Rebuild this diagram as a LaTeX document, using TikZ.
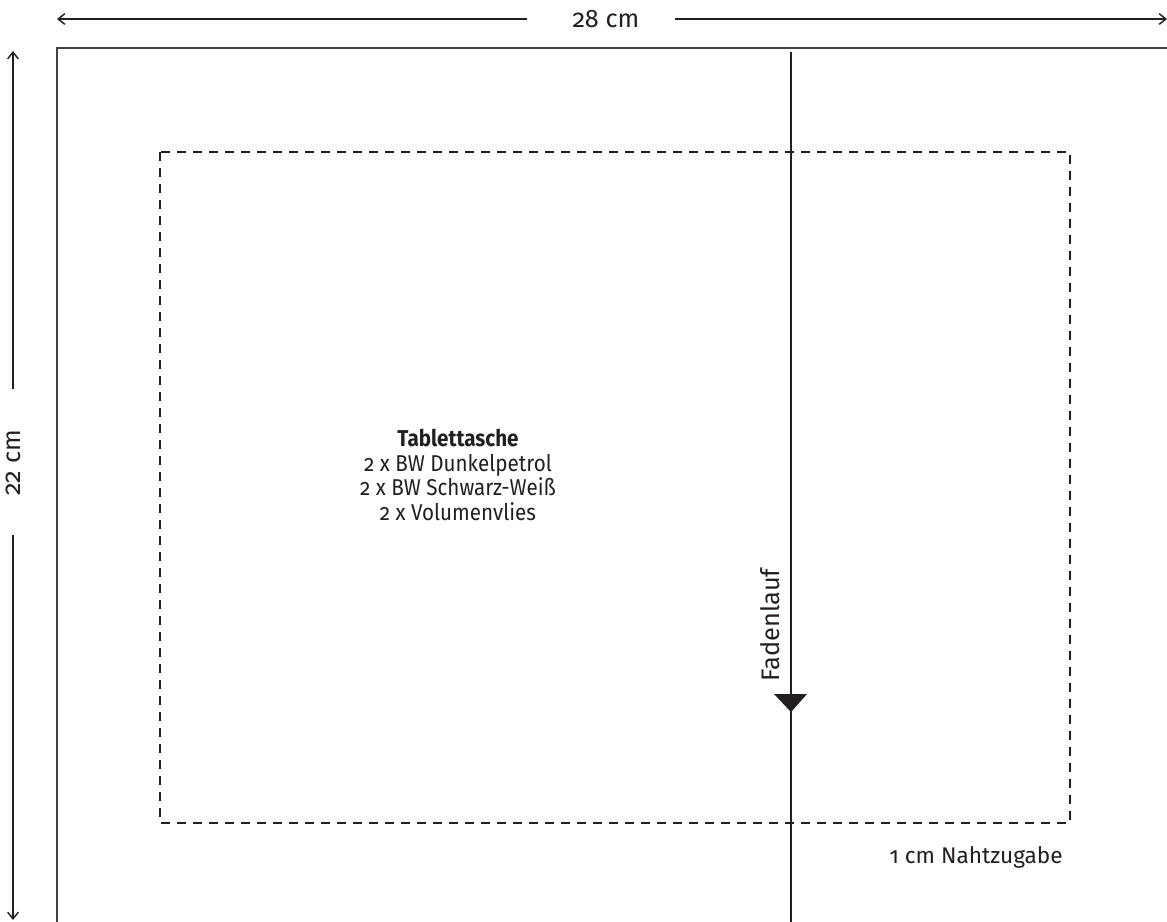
\documentclass[tikz,border=0pt]{standalone}
\usepackage{fontspec}
\setmainfont{Fira Sans}[Numbers=OldStyle]
\newfontfamily\schmal{Fira Sans}[Numbers=OldStyle, FakeStretch=0.9]
\usetikzlibrary{arrows.meta}
\definecolor{ink}{HTML}{231F20}
\tikzset{
  txt/.style={font=\fontsize{17}{20}\selectfont, text=ink},
  masstxt/.style={font=\fontsize{19}{22}\selectfont, text=ink},
  block/.style={font=\schmal\fontsize{17.2}{18.4}\selectfont, text=ink, align=center},
  dimline/.style={draw=ink, line width=1.1pt, -{Straight Barb[length=5pt,width=8pt]}},
  schnitt/.style={draw=ink!85, line width=1.1pt},
  naht/.style={draw=ink, line width=0.8pt, dash pattern=on 7pt off 5pt},
  grain/.style={draw=ink, line width=1.5pt}
}
\begin{document}
\begin{tikzpicture}[x=0.75pt, y=-0.75pt]
  \useasboundingbox (0,0) rectangle (1167,921);
  \clip (0,0) rectangle (1167,921);

  % Schnittteil und Nahtzugabe
  \draw[schnitt] (57,48) rectangle (1180,935);
  \draw[naht] (160,152) rectangle (1070,823);

  % Masse
  \node[masstxt] (breite) at (606,19) {28 cm};
  \coordinate (links) at (57,19);
  \coordinate (rechts) at (1167,19);
  \draw[dimline, shorten <=31pt] (breite.west) -- (links);
  \draw[dimline, shorten <=23pt] (breite.east) -- (rechts);

  \node[masstxt, rotate=90] (hoehe) at (13,463) {22 cm};
  \coordinate (oben) at (13,51);
  \coordinate (unten) at (13,920);
  \draw[dimline, shorten <=27.5pt] (hoehe.east) -- (oben);
  \draw[dimline, shorten <=26pt] (hoehe.west) -- (unten);

  % Fadenlauf
  \coordinate (fadenoben) at (791,52);
  \coordinate (fadenunten) at (791,925);
  \draw[grain] (fadenoben) -- (fadenunten);
  \fill[ink] (774,694) -- (807,694) -- (791,712) -- cycle;
  \node[masstxt, rotate=90] (faden) at (770,625) {Fadenlauf};

  % Beschriftung
  \node[block] (titel) at (458,475)
    {\textbf{Tablettasche}\\2 x BW Dunkelpetrol\\2 x BW Schwarz-Weiß\\2 x Volumenvlies};
  \node[txt] (zugabe) at (976,857) {1 cm Nahtzugabe};
\end{tikzpicture}
\end{document}
